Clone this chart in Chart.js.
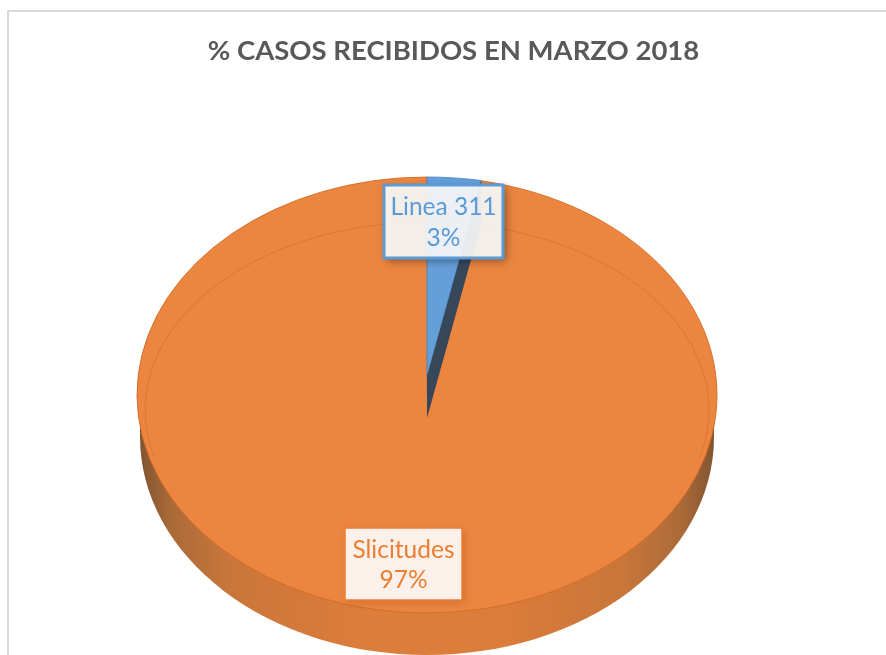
<!DOCTYPE html>
<html>
<head>
<meta charset="utf-8">
<style>
  html, body { margin: 0; padding: 0; background: #fff; overflow: hidden; }
  canvas { display: block; }
</style>
<script src="https://cdn.jsdelivr.net/npm/chart.js@4"></script>
</head>
<body>
<canvas id="pieChart" width="886" height="655"></canvas>
<script>
const chartTitle = '% CASOS RECIBIDOS EN MARZO 2018';
const categories = ['Linea 311', 'Slicitudes'];
const percentValues = [3, 97];
const sliceColors = ['#659fd9', '#eb8540'];
const edgeColors = ['#4a88c7', '#cf6a22'];
const labelColors = ['#5b9bd5', '#ed7d31'];

// the pie is tilted: the point of the small slice sits above the middle of the ellipse
const pieX = 427, pieY = 395, tipY = 376;
const pieSquash = 218 / 290, tipSquash = 199 / 290;
const wallDepth = 42;

// label boxes, [left, top, width, height]
const labelBoxes = [[384, 185, 119, 73], [345, 528, 117, 72]];

function drawSquashed(ctx, el, y, squash) {
  ctx.save();
  ctx.translate(pieX, y);
  ctx.scale(1, squash);
  ctx.translate(-el.x, -el.y);
  el.draw(ctx);
  ctx.restore();
}

const tiltedPie = {
  id: 'tiltedPie',
  beforeDraw(chart) {
    const ctx = chart.ctx;
    // frame of the chart area, only left and top are in the picture
    ctx.fillStyle = '#d9d9d9';
    ctx.fillRect(7, 10, 879, 2);
    ctx.fillRect(7, 10, 2, 645);
  },
  beforeDatasetsDraw(chart) {
    const ctx = chart.ctx;
    const meta = chart.getDatasetMeta(0);
    const blue = meta.data[0];
    const orange = meta.data[1];
    const r = blue.outerRadius;

    // side wall
    const wall = ctx.createLinearGradient(pieX - r, 0, pieX + r, 0);
    wall.addColorStop(0, '#7d5330');
    wall.addColorStop(0.06, '#ab6a38');
    wall.addColorStop(0.16, '#c9763a');
    wall.addColorStop(0.4, '#dd7d3b');
    wall.addColorStop(0.6, '#dd7d3b');
    wall.addColorStop(0.84, '#c9763a');
    wall.addColorStop(0.94, '#ab6a38');
    wall.addColorStop(1, '#7d5330');
    ctx.fillStyle = wall;
    ctx.beginPath();
    ctx.ellipse(pieX, pieY + wallDepth, r - 3, r * pieSquash, 0, 0, Math.PI);
    ctx.lineTo(pieX - r + 3, pieY);
    ctx.lineTo(pieX + r - 3, pieY);
    ctx.closePath();
    ctx.fill();

    // top face, drawn by the library's own arcs
    drawSquashed(ctx, orange, pieY, pieSquash);
    drawSquashed(ctx, blue, tipY, tipSquash);

    // dark cut face of the small slice
    const a = blue.endAngle;
    const ex = pieX + r * Math.cos(a);
    const ey = tipY + r * Math.sin(a) * tipSquash;
    ctx.fillStyle = '#37475a';
    ctx.beginPath();
    ctx.moveTo(pieX, tipY);
    ctx.lineTo(pieX, tipY + wallDepth);
    ctx.lineTo(ex, ey + wallDepth);
    ctx.lineTo(ex, ey);
    ctx.closePath();
    ctx.fill();

    // faint bevel line
    ctx.strokeStyle = 'rgba(190,90,25,0.35)';
    ctx.lineWidth = 1;
    ctx.beginPath();
    ctx.ellipse(pieX, 410, 282, 188, 0, Math.PI * 0.92, Math.PI * 2.08);
    ctx.stroke();
    return false;
  },
  afterDraw(chart) {
    const ctx = chart.ctx;
    categories.forEach((name, i) => {
      const [x, y, w, h] = labelBoxes[i];
      ctx.save();
      ctx.shadowColor = i === 0 ? 'rgba(0,0,0,0.45)' : 'rgba(150,70,10,0.35)';
      ctx.shadowBlur = 8;
      ctx.shadowOffsetX = 3;
      ctx.shadowOffsetY = 3;
      ctx.fillStyle = 'rgba(255,255,255,0.9)';
      ctx.fillRect(x, y, w, h);
      ctx.restore();
      ctx.strokeStyle = labelColors[i];
      ctx.lineWidth = i === 0 ? 3 : 1.5;
      ctx.strokeRect(x, y, w, h);
      ctx.fillStyle = labelColors[i];
      ctx.font = '24.5px Lato';
      ctx.textAlign = 'center';
      ctx.textBaseline = 'middle';
      ctx.fillText(name, x + w / 2, y + h * 0.3);
      ctx.fillText(percentValues[i] + '%', x + w / 2, y + h * 0.73);
    });
  }
};

new Chart(document.getElementById('pieChart'), {
  type: 'pie',
  data: {
    labels: categories,
    datasets: [{
      data: percentValues,
      backgroundColor: sliceColors,
      borderColor: edgeColors,
      borderWidth: 1,
      radius: 290,
      clip: false
    }]
  },
  options: {
    responsive: false,
    animation: false,
    layout: { padding: { left: 21 } },
    plugins: {
      legend: { display: false },
      tooltip: { enabled: false },
      title: {
        display: true,
        text: chartTitle,
        color: '#595959',
        font: { family: 'Lato', size: 27.5, weight: 'bold' },
        padding: { top: 35, bottom: 0 }
      }
    }
  },
  plugins: [tiltedPie]
});
</script>
</body>
</html>
